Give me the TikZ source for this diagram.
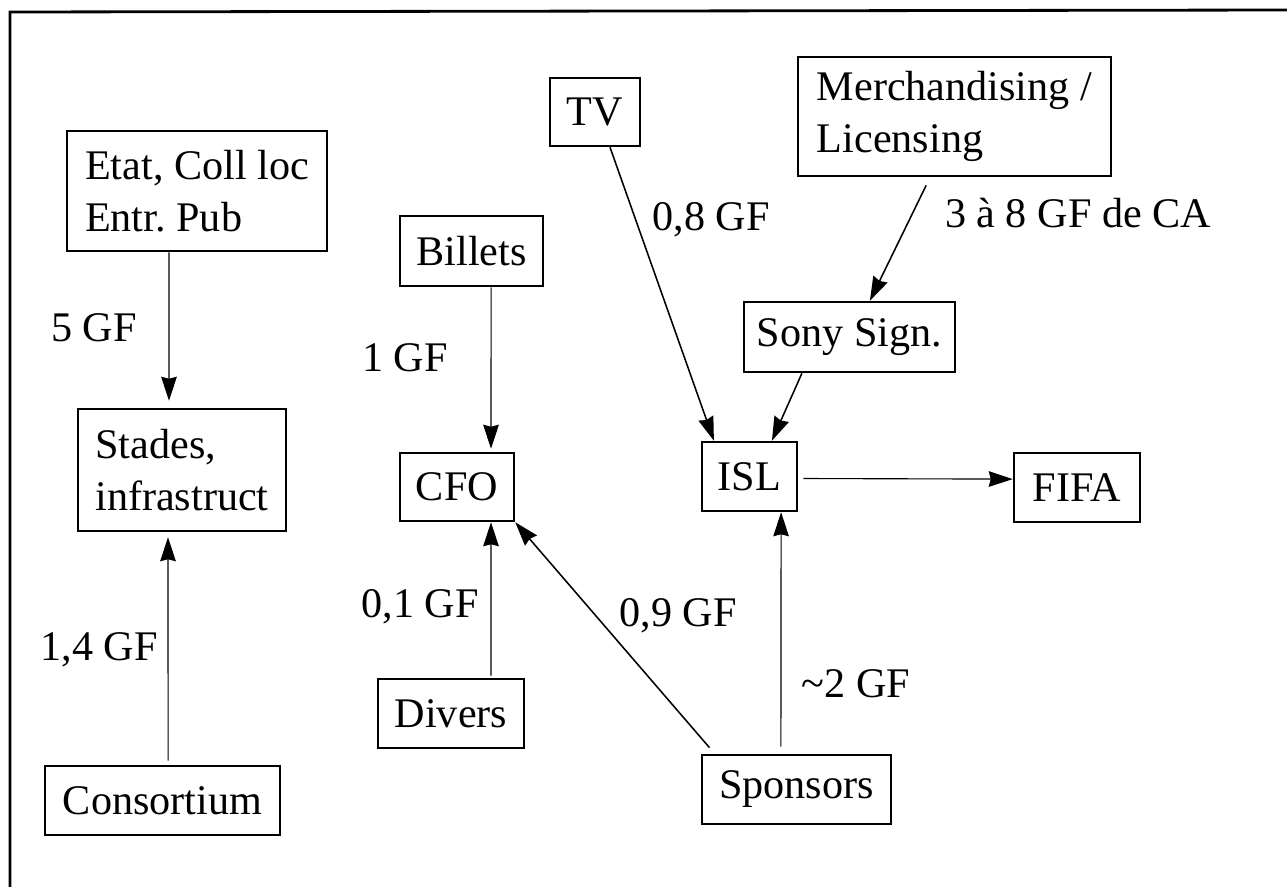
\documentclass[tikz,border=0pt]{standalone}
\usepackage{fontspec}
\setmainfont{Liberation Serif}
\usepackage{tikz}
\usetikzlibrary{arrows.meta}
\tikzset{>={Stealth[length=6mm,width=3.9mm,inset=0.5mm]}}

\begin{document}
\begin{tikzpicture}[x=0.25mm, y=-0.25mm]
  \tikzstyle{fbox} = [draw, line width=1.8pt, inner sep=0pt, align=left,
                      font=\fontsize{30}{37}\selectfont]
  \tikzstyle{lbl}  = [inner sep=0pt, font=\fontsize{30}{37}\selectfont]
  \tikzstyle{flow} = [->, line width=0.8pt]

  \useasboundingbox (0,0) rectangle (1287,887);
  \draw[line width=2pt] (10,887) -- (10,12) -- (1287,10);

  % boxes
  \node[fbox, minimum width=65mm,    minimum height=30mm]    (etat)     at (197,191)    {Etat, Coll loc\\Entr.\ Pub};
  \node[fbox, minimum width=22.5mm,  minimum height=17mm]    (tv)       at (595,112)    {TV};
  \node[fbox, minimum width=35.75mm, minimum height=17.5mm]  (billets)  at (471.5,251)  {Billets};
  \node[fbox, minimum width=78.25mm, minimum height=29.75mm] (merch)    at (954.5,116.5) {Merchandising /\\Licensing};
  \node[fbox, minimum width=52.75mm, minimum height=17.5mm]  (sony)     at (849.5,337)  {Sony Sign.};
  \node[fbox, minimum width=52mm,    minimum height=30.5mm]  (stades)   at (182,470)    {Stades,\\infrastruct};
  \node[fbox, minimum width=28.5mm,  minimum height=17mm]    (cfo)      at (457,487)    {CFO};
  \node[fbox, minimum width=23.75mm, minimum height=17.25mm] (isl)      at (749.5,476.5) {ISL};
  \node[fbox, minimum width=31.5mm,  minimum height=17.25mm] (fifa)     at (1077,487.5) {FIFA};
  \node[fbox, minimum width=36.5mm,  minimum height=17.25mm] (divers)   at (451,713.5)  {Divers};
  \node[fbox, minimum width=58.75mm, minimum height=17.25mm] (consort)  at (162.5,800.5) {Consortium};
  \node[fbox, minimum width=47.25mm, minimum height=17.25mm] (sponsors) at (796.5,789.5) {Sponsors};

  % amounts
  \node[lbl] (l5)  at (94,328)   {5 GF};
  \node[lbl] (l1)  at (405,358)  {1 GF};
  \node[lbl] (l14) at (99,650)   {1,4 GF};
  \node[lbl] (l01) at (420,607)  {0,1 GF};
  \node[lbl] (l09) at (678,616)  {0,9 GF};
  \node[lbl] (l2)  at (856,684)  {\textasciitilde2 GF};
  \node[lbl] (l08) at (711,220)  {0,8 GF};
  \node[lbl] (lca) at (1078,213) {3 à 8 GF de CA};

  % flows
  \draw[flow, shorten >=1.75mm] ([xshift=-7mm]etat.south) -- ([xshift=-3.25mm]stades.north);
  \draw[flow, shorten <=1mm, shorten >=1.25mm] ([xshift=1.4mm]consort.north) -- ([xshift=-3.5mm]stades.south);
  \draw[flow, shorten >=0.75mm] ([xshift=4.9mm]billets.south) -- ([xshift=8.5mm]cfo.north);
  \draw[flow, shorten <=0.5mm] ([xshift=10mm]divers.north) -- ([xshift=8.5mm]cfo.south);
  \draw[flow, line width=1.1pt] ([xshift=3.75mm]tv.south) -- ([xshift=-8.9mm]isl.north);
  \draw[flow, line width=1.1pt] ([xshift=-11.9mm]sony.south) -- ([xshift=5.6mm]isl.north);
  \draw[flow, line width=1.1pt, shorten <=2.25mm] ([xshift=-6.1mm]merch.south) -- ([xshift=5.1mm]sony.north);
  \draw[flow, shorten <=1.25mm] ([yshift=-0.5mm]isl.east) -- ([yshift=2.1mm]fifa.west);
  \draw[flow, shorten <=1.75mm] ([xshift=-3.9mm]sponsors.north) -- ([xshift=7.9mm]isl.south);
  \draw[flow, line width=1.1pt, shorten <=2mm] ([xshift=3.5mm]sponsors.north west) -- (cfo.south east);
\end{tikzpicture}
\end{document}
